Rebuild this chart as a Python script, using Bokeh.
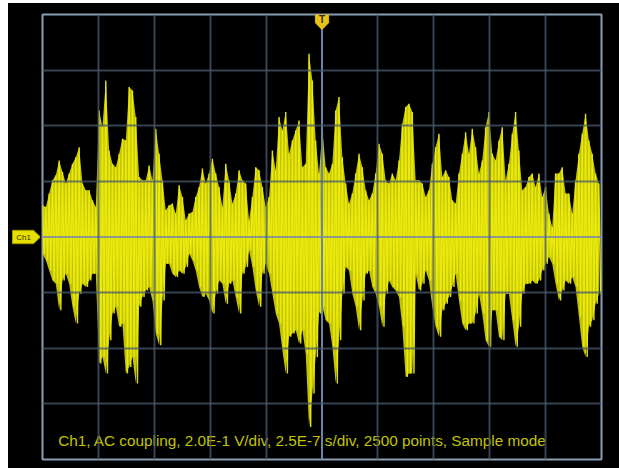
import numpy as np
from bokeh.plotting import figure
from bokeh.layouts import row
from bokeh.models import Range1d, Grid, FixedTicker, Span, Label, PolyAnnotation
from bokeh.embed import file_html
from bokeh.resources import INLINE

# Oscilloscope record: Ch1, 0.2 V/div, 0.25 us/div, 10 x 8 divisions
time_per_div_us = 0.25
volts_per_div = 0.2
n_hdiv = 10
n_vdiv = 8

upper_a = [0.114, 0.108, 0.156, 0.204, 0.222, 0.275, 0.234, 0.192, 0.228, 0.263,
           0.287, 0.323, 0.192, 0.168, 0.168, 0.132, 0.108, 0.455, 0.395, 0.563,
           0.311, 0.263, 0.251, 0.299, 0.353, 0.347, 0.539, 0.527, 0.431, 0.216,
           0.204, 0.204, 0.257, 0.204, 0.389, 0.299, 0.204, 0.096, 0.114, 0.120,
           0.084, 0.186, 0.144, 0.060, 0.084, 0.090, 0.144, 0.180, 0.246, 0.192,
           0.228, 0.281, 0.228, 0.180, 0.108]
lower_a = [-0.060, -0.084, -0.120, -0.156, -0.168, -0.263, -0.156, -0.132, -0.168, -0.251,
           -0.311, -0.204, -0.168, -0.180, -0.156, -0.132, -0.132, -0.455, -0.431, -0.491,
           -0.371, -0.275, -0.251, -0.323, -0.311, -0.491, -0.467, -0.431, -0.527, -0.251,
           -0.216, -0.192, -0.180, -0.228, -0.347, -0.389, -0.228, -0.096, -0.096, -0.132,
           -0.144, -0.120, -0.132, -0.108, -0.060, -0.084, -0.120, -0.180, -0.216, -0.204,
           -0.228, -0.275, -0.204, -0.156, -0.168]
upper_b = [0.263, 0.204, 0.120, 0.156, 0.240, 0.204, 0.192, 0.060, 0.144, 0.251,
           0.240, 0.180, 0.108, 0.144, 0.311, 0.240, 0.431, 0.383, 0.449, 0.299,
           0.347, 0.383, 0.419, 0.251, 0.263, 0.659, 0.563, 0.347, 0.228, 0.383,
           0.251, 0.228, 0.263, 0.455, 0.503, 0.287, 0.192, 0.120, 0.156, 0.228,
           0.299, 0.251, 0.168, 0.132, 0.156, 0.228, 0.335, 0.299, 0.204, 0.192,
           0.228, 0.204, 0.275, 0.407, 0.467, 0.479]
lower_b = [-0.240, -0.168, -0.156, -0.216, -0.275, -0.132, -0.108, -0.048, -0.108, -0.192,
           -0.251, -0.132, -0.096, -0.132, -0.204, -0.275, -0.311, -0.407, -0.491, -0.359,
           -0.347, -0.335, -0.383, -0.335, -0.419, -0.683, -0.563, -0.431, -0.275, -0.251,
           -0.299, -0.311, -0.395, -0.527, -0.371, -0.204, -0.108, -0.120, -0.204, -0.251,
           -0.335, -0.228, -0.132, -0.120, -0.180, -0.204, -0.251, -0.323, -0.204, -0.156,
           -0.180, -0.192, -0.216, -0.323, -0.503, -0.491]
upper_c = [0.449, 0.204, 0.204, 0.192, 0.144, 0.168, 0.263, 0.323, 0.371, 0.216,
           0.240, 0.216, 0.132, 0.120, 0.228, 0.299, 0.377, 0.299, 0.389, 0.323,
           0.228, 0.275, 0.395, 0.449, 0.299, 0.275, 0.347, 0.395, 0.204, 0.263,
           0.371, 0.449, 0.311, 0.168, 0.180, 0.216, 0.228, 0.180, 0.228, 0.144,
           0.180, 0.084, 0.036, 0.228, 0.228, 0.251, 0.156, 0.156, 0.084, 0.204,
           0.299, 0.371, 0.443, 0.347, 0.299, 0.228, 0.192]
lower_c = [-0.491, -0.132, -0.192, -0.168, -0.120, -0.156, -0.251, -0.323, -0.359, -0.263,
           -0.240, -0.216, -0.180, -0.132, -0.228, -0.311, -0.335, -0.311, -0.311, -0.275,
           -0.204, -0.275, -0.371, -0.395, -0.263, -0.263, -0.359, -0.371, -0.204, -0.204,
           -0.299, -0.395, -0.323, -0.204, -0.168, -0.168, -0.156, -0.168, -0.156, -0.120,
           -0.096, -0.072, -0.096, -0.168, -0.228, -0.192, -0.156, -0.168, -0.144, -0.180,
           -0.287, -0.395, -0.431, -0.323, -0.299, -0.240, -0.204]

caption = "Ch1, AC coupling, 2.0E-1 V/div, 2.5E-7 s/div, 2500 points, Sample mode"
channel_name = "Ch1"
ground_level = 0.0

upper = np.array(upper_a + upper_b + upper_c)
lower = np.array(lower_a + lower_b + lower_c)
n = len(upper)
col_dt = 0.0149  # us per envelope column
t = np.arange(n) * col_dt

# trace: alternate between top and bottom of each column
xs = np.empty(2 * n)
ys = np.empty(2 * n)
xs[0::2] = t
xs[1::2] = t + col_dt / 2
ys[0::2] = upper
ys[1::2] = lower

t_max = n_hdiv * time_per_div_us
v_max = n_vdiv / 2 * volts_per_div

# ---- left strip with the channel ground marker ----
side = figure(width=32, height=465, output_backend="svg", toolbar_location=None,
              x_axis_type=None, y_axis_type=None,
              x_range=Range1d(0, 32), y_range=Range1d(-v_max, v_max),
              min_border_left=0, min_border_right=0, min_border_top=11, min_border_bottom=9)
side.background_fill_color = "black"
side.border_fill_color = "black"
side.outline_line_color = None
side.patch([4, 25, 32, 25, 4],
           [ground_level + 0.024, ground_level + 0.024, ground_level,
            ground_level - 0.024, ground_level - 0.024],
           fill_color="#e6e000", line_color="#a09a00", line_width=1)
side.text(x=[15], y=[ground_level], text=[channel_name], text_align="center",
          text_baseline="middle", text_font_size="8px", text_color="#333000")

# ---- main screen ----
p = figure(width=579, height=465, output_backend="svg", toolbar_location=None,
           x_axis_type=None, y_axis_type=None,
           x_range=Range1d(0, t_max), y_range=Range1d(-v_max, v_max),
           min_border_left=2, min_border_right=18, min_border_top=11, min_border_bottom=9)
p.background_fill_color = "black"
p.border_fill_color = "black"
p.outline_line_color = "#8a9db3"
p.outline_line_width = 2

# trace body and spikes
p.varea(x=t, y1=lower, y2=upper, fill_color="#d8d800", fill_alpha=0.9)
p.line(xs, ys, line_color="#ecec10", line_width=1.4, line_alpha=0.95)

grid_color = "#4a5a6e"
xticks = [i * time_per_div_us for i in range(1, n_hdiv) if i != n_hdiv // 2]
yticks = [(i - n_vdiv // 2) * volts_per_div for i in range(1, n_vdiv) if i != n_vdiv // 2]
p.add_layout(Grid(dimension=0, ticker=FixedTicker(ticks=xticks), level="overlay",
                  grid_line_color=grid_color, grid_line_width=2, grid_line_alpha=0.75))
p.add_layout(Grid(dimension=1, ticker=FixedTicker(ticks=yticks), level="overlay",
                  grid_line_color=grid_color, grid_line_width=2, grid_line_alpha=0.75))
p.add_layout(Span(location=t_max / 2, dimension="height", line_color="#6a86a6", line_width=2))
p.add_layout(Span(location=ground_level, dimension="width", line_color="#7a8ca0",
                  line_width=2, line_alpha=0.85))

# trigger marker "T"
dx = 0.031
p.add_layout(PolyAnnotation(
    xs=[t_max / 2 - dx, t_max / 2 + dx, t_max / 2 + dx, t_max / 2, t_max / 2 - dx],
    ys=[0.807, 0.807, 0.770, 0.744, 0.770],
    fill_color="#e8c41a", fill_alpha=1, line_color="#b89a10", line_width=1))
p.add_layout(Label(x=t_max / 2, y=0.782, text="T", text_align="center", text_baseline="middle",
                   text_font_size="10px", text_font_style="bold", text_color="#3a2a00",
                   text_font="Liberation Sans"))

p.add_layout(Label(x=0.07, y=-0.732, text=caption, text_baseline="middle",
                   text_font_size="15.3px", text_color="#c4c400", text_font="Liberation Sans"))

layout = row(side, p, spacing=0)
layout.styles = {"margin-left": "8px", "margin-top": "3px", "background-color": "black"}

open("out.html", "w").write(file_html(layout, INLINE))
